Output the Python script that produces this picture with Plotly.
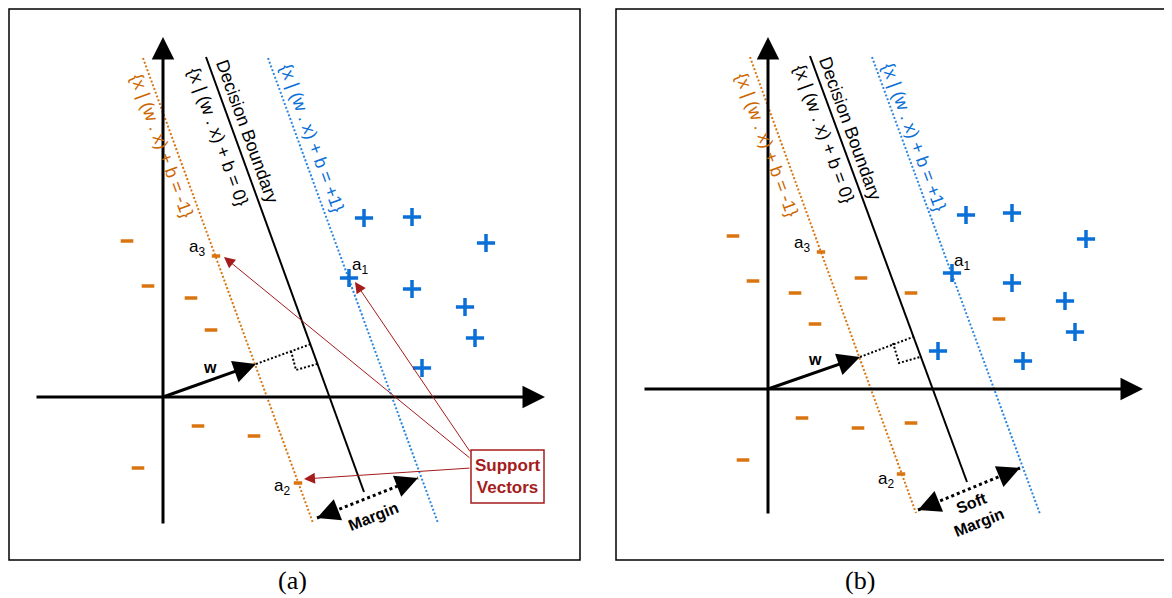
import plotly.graph_objects as go

# The page body has an 8px margin, so the figure is drawn 8px smaller and shifted.
PAGE_W, PAGE_H, BODY = 1172, 598, 8
W, H = PAGE_W - BODY, PAGE_H - BODY
ORANGE = "#DA7410"
ORANGE_TXT = "#CC6600"
BLUE = "#0A6FD6"
BLUE_DOT = "#2A86E0"
RED = "#A51C1C"
FONT = "Liberation Sans, Arial, sans-serif"

# ---------------- Panel (a) : hard margin ----------------
A_NEG_X = [-3.6, -1.5, 2.8, 4.8, 3.5, 9.1, -2.5]
A_NEG_Y = [15.6, 11.1, 9.9, 6.7, -2.9, -3.9, -7.1]
A_SV_NEG_X = [5.3, 13.5]          # a3, a2
A_SV_NEG_Y = [14.1, -8.6]
A_POS_X = [20.1, 24.9, 32.3, 18.6, 24.9, 30.2, 31.2, 25.9]
A_POS_Y = [17.9, 18.0, 15.4, 11.9, 10.8, 9.0, 5.9, 2.9]
A_LINE_M1_X = [-2.0, 15.0]
A_LINE_M1_Y = [33.9, -12.6]
A_LINE_0_X = [4.3, 20.1]
A_LINE_0_Y = [34.0, -9.5]
A_LINE_P1_X = [10.5, 27.5]
A_LINE_P1_Y = [33.9, -12.6]
A_W_X = [0.0, 9.3]
A_W_Y = [0.0, 3.3]
A_PERP_X = [9.3, 14.8]
A_PERP_Y = [3.3, 5.3]
A_SQ_X = [12.8, 13.3, 15.4]
A_SQ_Y = [4.6, 2.7, 3.3]
A_MARGIN_X = [15.4, 25.5]
A_MARGIN_Y = [-12.1, -8.1]
A_LABEL_POS = {"a3": (3.4, 14.9), "a1": (19.7, 13.1), "a2": (11.9, -9.0), "w": (4.7, 3.0)}
A_SV_BOX_X = [30.8, 38.1]
A_SV_BOX_Y = [-10.6, -5.3]
A_SV_HEAD_X = [6.1, 19.2, 14.1]
A_SV_HEAD_Y = [14.0, 11.5, -8.2]
A_SV_TAIL_Y = [-6.2, -5.6, -7.1]
A_YAXIS = [-12.8, 36.0]
A_XAXIS = [-12.8, 38.2]

# ---------------- Panel (b) : soft margin ----------------
B_NEG_X = [-3.5, -1.5, 2.7, 4.7, 9.3, 14.3, 23.1, 3.4, 9.0, 14.3, -2.5]
B_NEG_Y = [15.3, 10.8, 9.6, 6.5, 11.1, 9.6, 7.0, -2.9, -3.9, -3.4, -7.1]
B_SV_NEG_X = [5.3, 13.3]
B_SV_NEG_Y = [13.7, -8.5]
B_POS_X = [19.8, 24.4, 31.8, 18.4, 24.4, 29.7, 30.7, 17.0, 25.5]
B_POS_Y = [17.4, 17.6, 15.0, 11.6, 10.6, 8.8, 5.7, 3.8, 2.8]
B_LINE_M1_X = [-1.8, 14.8]
B_LINE_M1_Y = [33.2, -12.4]
B_LINE_0_X = [4.2, 19.9]
B_LINE_0_Y = [33.3, -9.3]
B_LINE_P1_X = [10.4, 27.2]
B_LINE_P1_Y = [33.2, -12.5]
B_W_X = [0.0, 9.2]
B_W_Y = [0.0, 3.2]
B_PERP_X = [9.2, 14.5]
B_PERP_Y = [3.2, 5.2]
B_SQ_X = [12.5, 13.1, 15.2]
B_SQ_Y = [4.6, 2.6, 3.2]
B_MARGIN_X = [15.0, 25.2]
B_MARGIN_Y = [-12.1, -7.9]
B_LABEL_POS = {"a3": (3.4, 14.5), "a1": (19.4, 12.7), "a2": (11.8, -9.1), "w": (4.7, 3.0)}
B_YAXIS = [-12.6, 35.2]
B_XAXIS = [-12.5, 37.5]

# text positions (centers) for rotated labels
A_TXT = {"m1": (-0.1, 25.1), "db": (8.4, 26.6), "eq0": (5.5, 26.0), "p1": (14.9, 25.9),
         "margin": (21.0, -11.9)}
B_TXT = {"m1": (-0.1, 24.4), "db": (8.2, 26.1), "eq0": (5.6, 25.5), "p1": (14.6, 25.2),
         "margin": (20.7, -12.4)}

# panel frames in page pixels: left, right, top, bottom ; axis origin in page pixels
PANEL_PX = {1: dict(l=9, r=580, t=9, b=560, ox=163, oy=397),
            2: dict(l=616, r=1166, t=9, b=560, ox=768, oy=389)}
UNIT = 10.0  # page pixels per diagram unit


def px_x(px):
    return (px - BODY) / W


def px_y(py):
    return 1 - (py - BODY) / H


fig = go.Figure()
annotations = []
shapes = []


def refs(p):
    return ("x", "y") if p == 1 else ("x2", "y2")


def arrow(p, x0, y0, x1, y1, color="black", width=3, head=2, size=1.0):
    xr, yr = refs(p)
    annotations.append(dict(x=x1, y=y1, ax=x0, ay=y0, xref=xr, yref=yr, axref=xr, ayref=yr,
                            showarrow=True, arrowhead=head, arrowsize=size, arrowwidth=width,
                            arrowcolor=color, text="", standoff=0, startstandoff=0))


def text(p, x, y, s, size=18, color="black", angle=0, bold=False):
    xr, yr = refs(p)
    if bold:
        s = "<b>" + s.replace("<br>", "</b><br><b>") + "</b>"
    annotations.append(dict(x=x, y=y, xref=xr, yref=yr, text=s, showarrow=False,
                            textangle=angle, font=dict(family=FONT, size=size, color=color),
                            xanchor="center", yanchor="middle"))


def line(p, xs, ys, color, width, dash="solid"):
    xr, yr = refs(p)
    fig.add_trace(go.Scatter(x=xs, y=ys, mode="lines", xaxis=xr, yaxis=yr, hoverinfo="skip",
                             line=dict(color=color, width=width, dash=dash), showlegend=False))


def markers(p, xs, ys, symbol, size, color, lw):
    xr, yr = refs(p)
    fig.add_trace(go.Scatter(x=xs, y=ys, mode="markers", xaxis=xr, yaxis=yr, hoverinfo="skip",
                             marker=dict(symbol=symbol, size=size, color=color,
                                         line=dict(color=color, width=lw)), showlegend=False))


def panel(p, neg_x, neg_y, sv_x, sv_y, pos_x, pos_y, m1x, m1y, l0x, l0y, p1x, p1y,
          wx, wy, perpx, perpy, sqx, sqy, mx, my, labels, yaxis, xaxis, txt, margin_text):
    # coordinate axes
    arrow(p, 0, yaxis[0], 0, yaxis[1], width=3, head=2, size=1.5)
    arrow(p, xaxis[0], 0, xaxis[1], 0, width=3, head=2, size=1.5)
    # hyperplanes
    line(p, m1x, m1y, ORANGE, 2, "2px,2px")
    line(p, l0x, l0y, "black", 2)
    line(p, p1x, p1y, BLUE_DOT, 2, "2px,2px")
    # w vector + perpendicular
    line(p, perpx, perpy, "black", 2, "2px,2px")
    line(p, sqx, sqy, "black", 2, "2px,2px")
    arrow(p, wx[0], wy[0], wx[1], wy[1], width=3, head=2, size=1.5)
    # margin double arrow
    line(p, mx, my, "black", 3, "3px,3px")
    dx, dy = mx[1] - mx[0], my[1] - my[0]
    f = 0.12
    arrow(p, mx[1] - f * dx, my[1] - f * dy, mx[1], my[1], width=3, head=2, size=1.5)
    arrow(p, mx[0] + f * dx, my[0] + f * dy, mx[0], my[0], width=3, head=2, size=1.5)
    # points
    markers(p, neg_x, neg_y, "line-ew", 9, ORANGE, 3.5)
    markers(p, sv_x, sv_y, "line-ew", 6, ORANGE, 3.5)
    markers(p, pos_x, pos_y, "cross-thin", 13, BLUE, 3.5)
    # labels
    for k in ("a1", "a2", "a3"):
        x, y = labels[k]
        text(p, x, y, k[0] + "<sub>" + k[1] + "</sub>", size=17)
    text(p, labels["w"][0], labels["w"][1], "w", size=16, bold=True)
    text(p, *txt["m1"], "{x | (w . x) + b = -1}", size=18, color=ORANGE_TXT, angle=70)
    text(p, *txt["db"], "Decision Boundary", size=18, angle=70)
    text(p, *txt["eq0"], "{x | (w . x) + b = 0}", size=18, angle=70)
    text(p, *txt["p1"], "{x | (w . x) + b = +1}", size=18, color=BLUE, angle=70)
    text(p, *txt["margin"], margin_text, size=16, angle=-21.6, bold=True)


panel(1, A_NEG_X, A_NEG_Y, A_SV_NEG_X, A_SV_NEG_Y, A_POS_X, A_POS_Y,
      A_LINE_M1_X, A_LINE_M1_Y, A_LINE_0_X, A_LINE_0_Y, A_LINE_P1_X, A_LINE_P1_Y,
      A_W_X, A_W_Y, A_PERP_X, A_PERP_Y, A_SQ_X, A_SQ_Y, A_MARGIN_X, A_MARGIN_Y,
      A_LABEL_POS, A_YAXIS, A_XAXIS, A_TXT, "Margin")
panel(2, B_NEG_X, B_NEG_Y, B_SV_NEG_X, B_SV_NEG_Y, B_POS_X, B_POS_Y,
      B_LINE_M1_X, B_LINE_M1_Y, B_LINE_0_X, B_LINE_0_Y, B_LINE_P1_X, B_LINE_P1_Y,
      B_W_X, B_W_Y, B_PERP_X, B_PERP_Y, B_SQ_X, B_SQ_Y, B_MARGIN_X, B_MARGIN_Y,
      B_LABEL_POS, B_YAXIS, B_XAXIS, B_TXT, "Soft<br>Margin")

# support vectors callout (panel a)
shapes.append(dict(type="rect", xref="x", yref="y", x0=A_SV_BOX_X[0], x1=A_SV_BOX_X[1],
                   y0=A_SV_BOX_Y[0], y1=A_SV_BOX_Y[1], line=dict(color=RED, width=1.5),
                   fillcolor="white", layer="above"))
for hx, hy, ty in zip(A_SV_HEAD_X, A_SV_HEAD_Y, A_SV_TAIL_Y):
    arrow(1, A_SV_BOX_X[0], ty, hx, hy, color=RED, width=1, head=2, size=2.2)
text(1, sum(A_SV_BOX_X) / 2, sum(A_SV_BOX_Y) / 2, "Support<br>Vectors", size=17, color=RED, bold=True)

# panel frames
for p in (1, 2):
    xr, yr = refs(p)
    shapes.append(dict(type="rect", xref=xr + " domain", yref=yr + " domain", x0=0, x1=1, y0=0, y1=1,
                       line=dict(color="black", width=1.5)))

# captions
CAPTIONS = ["(a)", "(b)"]
CAPTION_PX = [(292, 580), (860, 580)]
for s, (cx, cy) in zip(CAPTIONS, CAPTION_PX):
    annotations.append(dict(x=px_x(cx), y=px_y(cy), xref="paper", yref="paper", text=s, showarrow=False,
                            xanchor="center", yanchor="middle",
                            font=dict(family="Liberation Serif, Times New Roman, serif", size=26,
                                      color="black")))

layout = dict(width=W, height=H, margin=dict(l=0, r=0, t=0, b=0), paper_bgcolor="white",
              plot_bgcolor="white", showlegend=False, annotations=annotations, shapes=shapes)
for p in (1, 2):
    q = PANEL_PX[p]
    sx = "" if p == 1 else "2"
    layout["xaxis" + sx] = dict(domain=[px_x(q["l"]), px_x(q["r"])],
                                range=[(q["l"] - q["ox"]) / UNIT, (q["r"] - q["ox"]) / UNIT],
                                visible=False, fixedrange=True, anchor="y" + sx)
    layout["yaxis" + sx] = dict(domain=[px_y(q["b"]), px_y(q["t"])],
                                range=[(q["oy"] - q["b"]) / UNIT, (q["oy"] - q["t"]) / UNIT],
                                visible=False, fixedrange=True, anchor="x" + sx)
fig.update_layout(**layout)
fig.write_html("out.html")
